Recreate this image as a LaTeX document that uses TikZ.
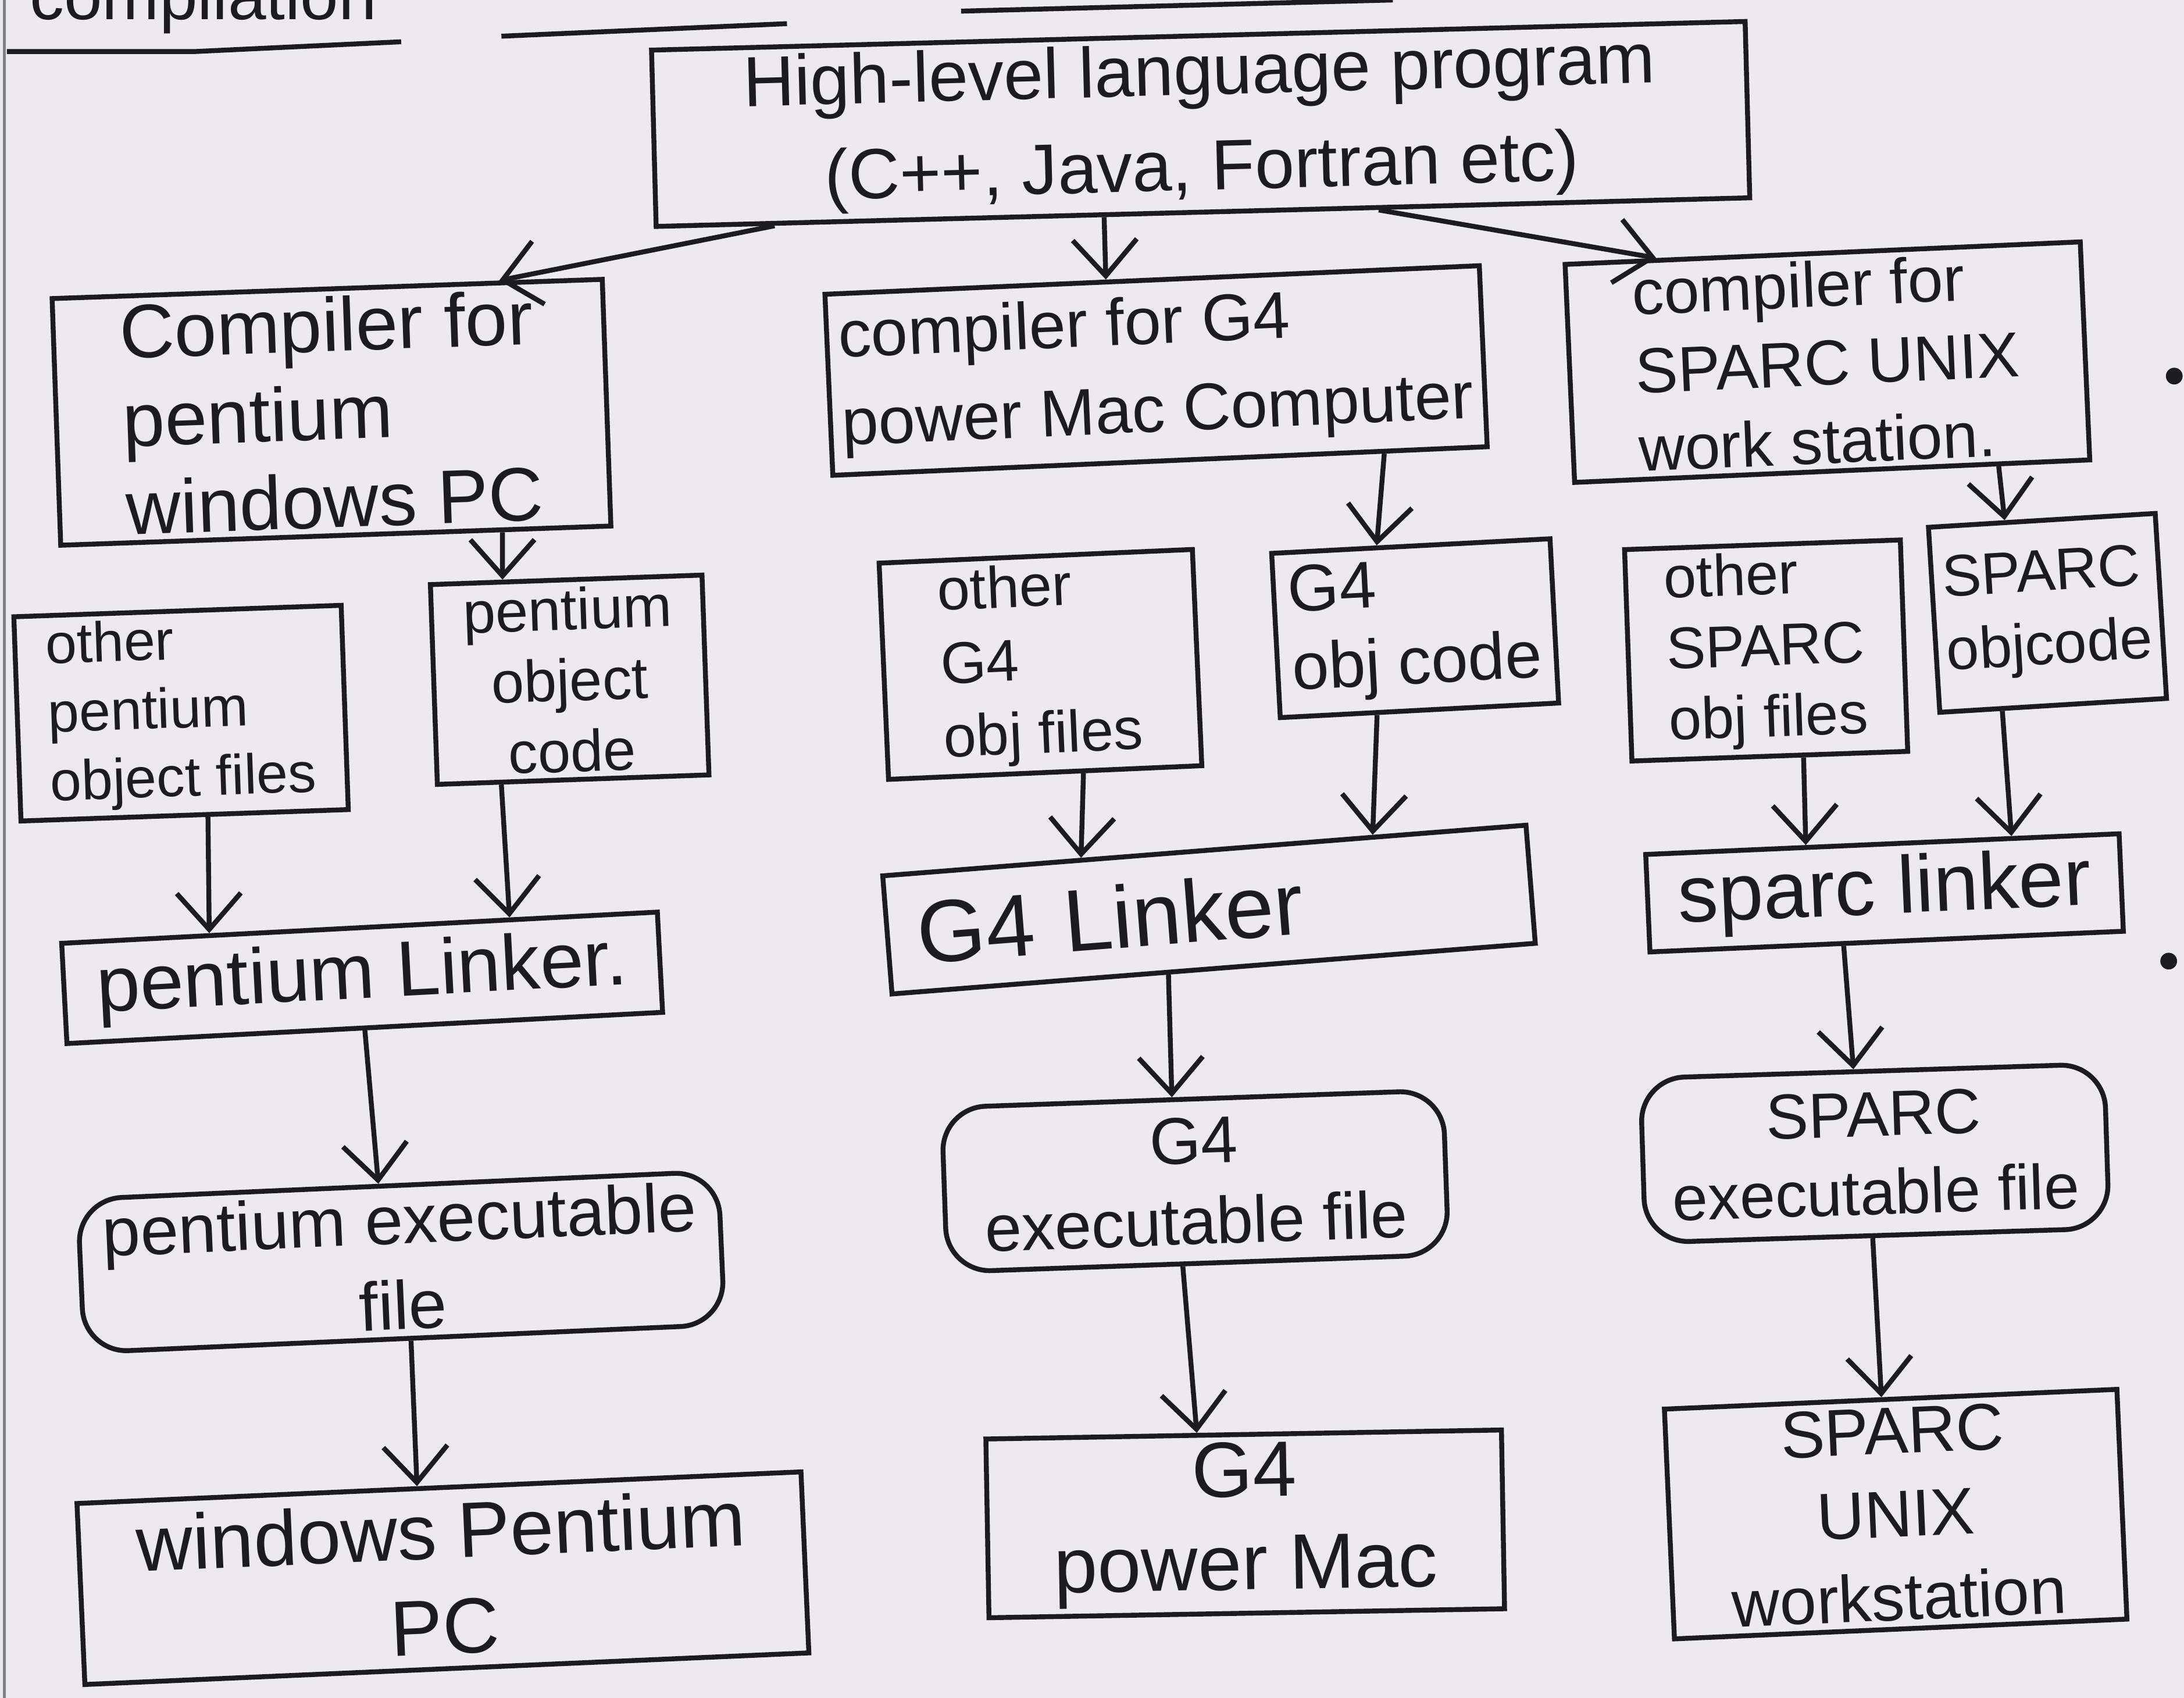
\documentclass[tikz,border=0pt]{standalone}
\usepackage{fontspec}
\setmainfont{Liberation Sans}
\usetikzlibrary{arrows.meta,calc}
\definecolor{paper}{RGB}{236,234,237}
\definecolor{ink}{RGB}{28,28,32}
\begin{document}
\begin{tikzpicture}[x=0.01cm, y=-0.01cm, color=ink, line width=1pt,
		box/.style={draw=ink, line width=1pt, inner sep=1.5pt},
		exe/.style={box, rounded corners=9pt},
		hand/.style 2 args={font=\fontsize{#1}{#2}\selectfont},
		arr/.style={line width=1pt, -{Straight Barb[length=2.6mm, width=4.6mm]}}]
			\useasboundingbox[fill=paper] (0,0) rectangle (1568,1219);
			
			%heading, cut off by the page edge
			\node[hand={14}{14}, anchor=base west] (title) at (8,14) {compilation};
			\draw (5,37) -- (140,37) -- (288,30);
			\draw (360,26) -- (565,17);
			\draw (690,8) -- (1000,0);
			\draw[ink!55, line width=0.6pt] (3,0) -- (3,1219);
			\fill (1561,270) circle (0.6mm);
			\fill (1557,690) circle (0.6mm);
			
			%source program
			\node[box, hand={14.5}{19.5}, rotate=1.5, minimum width=7.85cm, minimum height=1.25cm, align=center] (top) at (862,89) {High-level language program\\(C++, Java, Fortran etc)};
			
			%compilers
			\node[box, hand={15.5}{18}, rotate=2, minimum width=3.95cm, minimum height=1.66cm, align=left] (lcomp) at (238,296) {Compiler for\\pentium\\windows PC};
			\node[box, hand={13.5}{18}, rotate=2.5, minimum width=4.7cm, minimum height=1.3cm, align=left] (mcomp) at (830,266) {compiler for G4\\power Mac Computer};
			\node[box, hand={13}{16}, rotate=2.5, minimum width=3.7cm, minimum height=1.47cm, align=left] (rcomp) at (1312,260) {compiler for\\SPARC UNIX\\work station.};
			
			%object files
			\node[box, hand={11.5}{14}, rotate=2, minimum width=2.35cm, minimum height=1.36cm, align=left] (pother) at (130,512) {other\\pentium\\object files};
			\node[box, hand={12}{14.5}, rotate=2, minimum width=1.95cm, minimum height=1.3cm, align=center] (pcode) at (409,488) {pentium\\object\\code};
			\node[box, hand={12}{15}, rotate=2.5, minimum width=2.25cm, minimum height=1.45cm, align=left] (mother) at (747,477) {other\\G4\\obj files};
			\node[box, hand={13.5}{16}, rotate=3, minimum width=2cm, minimum height=1.18cm, align=left] (mcode) at (1016,451) {G4\\obj code};
			\node[box, hand={12}{14.5}, rotate=2, minimum width=1.98cm, minimum height=1.48cm, align=left] (rother) at (1268,467) {other\\SPARC\\obj files};
			\node[box, hand={12}{15}, rotate=3.5, minimum width=1.63cm, minimum height=1.33cm, align=left] (rcode) at (1470,440) {SPARC\\objcode};
			
			%linkers
			\node[box, hand={16}{16}, rotate=3, minimum width=4.28cm, minimum height=0.72cm] (plink) at (260,702) {pentium Linker.};
			\node[box, hand={18}{18}, rotate=4.5, minimum width=4.63cm, minimum height=0.85cm, text width=4.2cm, align=left] (mlink) at (868,653) {G4 Linker};
			\node[box, hand={16.5}{16.5}, rotate=2.5, minimum width=3.4cm, minimum height=0.7cm] (rlink) at (1353,641) {sparc linker};
			
			%executable files
			\node[exe, hand={14}{17.5}, rotate=2.5, minimum width=4.6cm, minimum height=1.1cm, align=center] (pexe) at (288,906) {pentium executable\\file};
			\node[exe, hand={13.5}{16.5}, rotate=2, minimum width=3.6cm, minimum height=1.18cm, align=center] (mexe) at (858,848) {G4\\executable file};
			\node[exe, hand={13}{16}, rotate=1.8, minimum width=3.33cm, minimum height=1.18cm, align=center] (rexe) at (1346,828) {SPARC\\executable file};
			
			%target machines
			\node[box, hand={16}{19.5}, rotate=2.5, minimum width=5.2cm, minimum height=1.3cm, align=center] (ppc) at (318,1133) {windows Pentium\\PC};
			\node[box, hand={16}{19}, rotate=1, minimum width=3.7cm, minimum height=1.25cm, align=center] (mmac) at (894,1094) {G4\\power Mac};
			\node[box, hand={13.5}{17}, rotate=2.5, minimum width=3.25cm, minimum height=1.65cm, align=center] (runix) at (1361,1087) {SPARC\\UNIX\\workstation};
			
			%arrows
			\draw[arr] ($(top.south west)!0.11!(top.south east)$) -- ($(lcomp.north west)!0.81!(lcomp.north east)$);
			\draw[arr] ($(top.south west)!0.41!(top.south east)$) -- ($(mcomp.north west)!0.43!(mcomp.north east)$);
			\draw[arr] ($(top.south west)!0.66!(top.south east)$) -- ($(rcomp.north west)!0.18!(rcomp.north east)$);
			
			\draw[arr] ($(lcomp.south west)!0.8!(lcomp.south east)$) -- ($(pcode.north west)!0.27!(pcode.north east)$);
			\draw[arr] ($(pother.south west)!0.57!(pother.south east)$) -- ($(plink.north west)!0.25!(plink.north east)$);
			\draw[arr] ($(pcode.south west)!0.24!(pcode.south east)$) -- ($(plink.north west)!0.75!(plink.north east)$);
			\draw[arr] ($(plink.south west)!0.5!(plink.south east)$) -- ($(pexe.north west)!0.47!(pexe.north east)$);
			\draw[arr] ($(pexe.south west)!0.51!(pexe.south east)$) -- ($(ppc.north west)!0.47!(ppc.north east)$);
			
			\draw[arr] ($(mcomp.south west)!0.84!(mcomp.south east)$) -- ($(mcode.north west)!0.38!(mcode.north east)$);
			\draw[arr] ($(mother.south west)!0.62!(mother.south east)$) -- ($(mlink.north west)!0.31!(mlink.north east)$);
			\draw[arr] ($(mcode.south west)!0.35!(mcode.south east)$) -- ($(mlink.north west)!0.76!(mlink.north east)$);
			\draw[arr] ($(mlink.south west)!0.43!(mlink.south east)$) -- ($(mexe.north west)!0.46!(mexe.north east)$);
			\draw[arr] ($(mexe.south west)!0.47!(mexe.south east)$) -- ($(mmac.north west)!0.41!(mmac.north east)$);
			
			\draw[arr] ($(rcomp.south west)!0.82!(rcomp.south east)$) -- ($(rcode.north west)!0.34!(rcode.north east)$);
			\draw[arr] ($(rother.south west)!0.62!(rother.south east)$) -- ($(rlink.north west)!0.34!(rlink.north east)$);
			\draw[arr] ($(rcode.south west)!0.28!(rcode.south east)$) -- ($(rlink.north west)!0.77!(rlink.north east)$);
			\draw[arr] ($(rlink.south west)!0.41!(rlink.south east)$) -- ($(rexe.north west)!0.46!(rexe.north east)$);
			\draw[arr] ($(rexe.south west)!0.49!(rexe.south east)$) -- ($(runix.north west)!0.48!(runix.north east)$);
		\end{tikzpicture}
\end{document}
